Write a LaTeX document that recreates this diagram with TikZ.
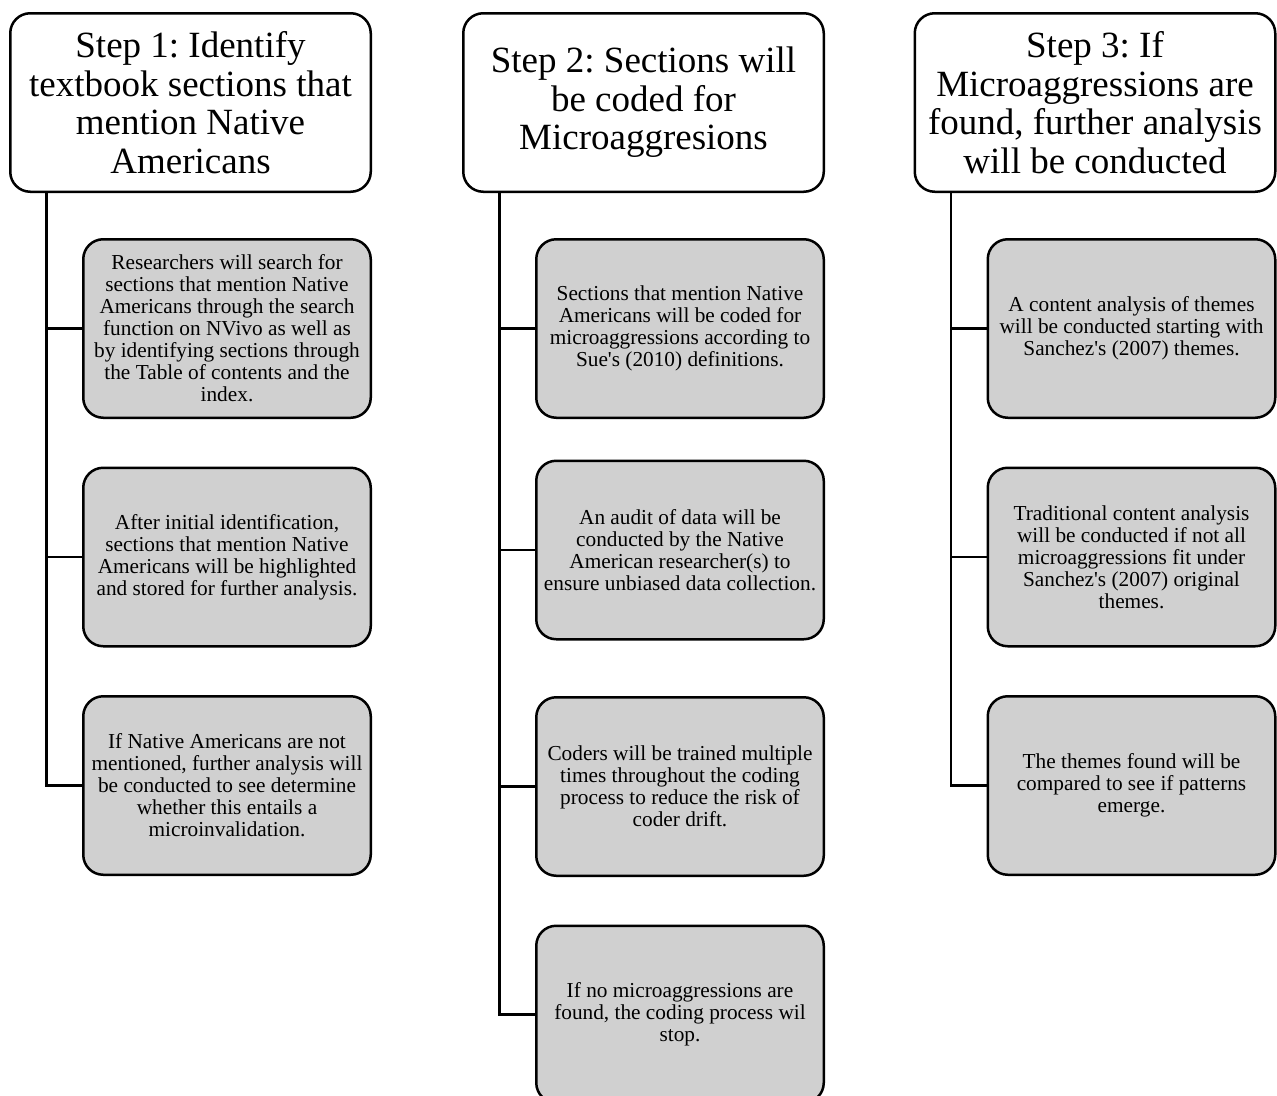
\documentclass[tikz,border=0pt]{standalone}
\usepackage{fontspec}
\setmainfont{Liberation Serif}[Ligatures=TeXOff]
\usetikzlibrary{positioning}
\definecolor{boxgray}{RGB}{208,208,208}
\frenchspacing

\begin{document}
\begin{tikzpicture}[x=1pt, y=-1pt,
			stepnode/.style={rectangle, rounded corners=20pt, draw=black, fill=white, line width=2.5pt, minimum width=360.5pt, minimum height=178.5pt, inner sep=0pt, align=center, font=\fontsize{37}{38.5}\selectfont},
			tasknode/.style={rectangle, rounded corners=20pt, draw=black, fill=boxgray, line width=2.5pt, minimum width=287.5pt, minimum height=178.5pt, inner sep=0pt, align=center, font=\fontsize{21.3}{22}\selectfont},
			link/.style={draw=black, line width=2.5pt},
			]
			\useasboundingbox (0,0) rectangle (1277,1095);
			%Nodes
			\node[stepnode] (step1) at (190.5,102.5) {Step 1: Identify\\textbook sections that\\mention Native\\Americans};
			\node[stepnode] (step2) at (643.5,102.5) {Step 2: Sections will\\be coded for\\Microaggresions};
			\node[stepnode] (step3) at (1095,102.5) {Step 3: If\\Microaggressions are\\found, further analysis\\will be conducted};

			\node[tasknode] (task11) [below=45pt of step1.south east, anchor=north east] {Researchers will search for\\sections that mention Native\\Americans through the search\\function on NVivo as well as\\by identifying sections through\\the Table of contents and the\\index.};
			\node[tasknode] (task12) [below=47.5pt of task11] {After initial identification,\\sections that mention Native\\Americans will be highlighted\\and stored for further analysis.};
			\node[tasknode] (task13) [below=47.5pt of task12] {If Native Americans are not\\mentioned, further analysis will\\be conducted to see determine\\whether this entails a\\microinvalidation.};

			\node[tasknode] (task21) [below=45pt of step2.south east, anchor=north east] {Sections that mention Native\\Americans will be coded for\\microaggressions according to\\Sue's (2010) definitions.};
			\node[tasknode] (task22) [below=40.5pt of task21] {An audit of data will be\\conducted by the Native\\American researcher(s) to\\ensure unbiased data collection.};
			\node[tasknode] (task23) [below=55.5pt of task22] {Coders will be trained multiple\\times throughout the coding\\process to reduce the risk of\\coder drift.};
			\node[tasknode, minimum height=177pt] (task24) [below=47.5pt of task23] {If no microaggressions are\\found, the coding process wil\\stop.};

			\node[tasknode] (task31) [below=45pt of step3.south east, anchor=north east] {A content analysis of themes\\will be conducted starting with\\Sanchez's (2007) themes.};
			\node[tasknode] (task32) [below=47.5pt of task31] {Traditional content analysis\\will be conducted if not all\\microaggressions fit under\\Sanchez's (2007) original\\themes.};
			\node[tasknode] (task33) [below=47.5pt of task32] {The themes found will be\\compared to see if patterns\\emerge.};

			%Links
			\foreach \t in {task11,task12,task13}
				\draw[link] ([xshift=37.5pt]step1.south west) |- (\t.west);
			\foreach \t in {task21,task22,task23,task24}
				\draw[link] ([xshift=37.5pt]step2.south west) |- (\t.west);
			\foreach \t in {task31,task32,task33}
				\draw[link] ([xshift=37.5pt]step3.south west) |- (\t.west);
		\end{tikzpicture}
\end{document}
